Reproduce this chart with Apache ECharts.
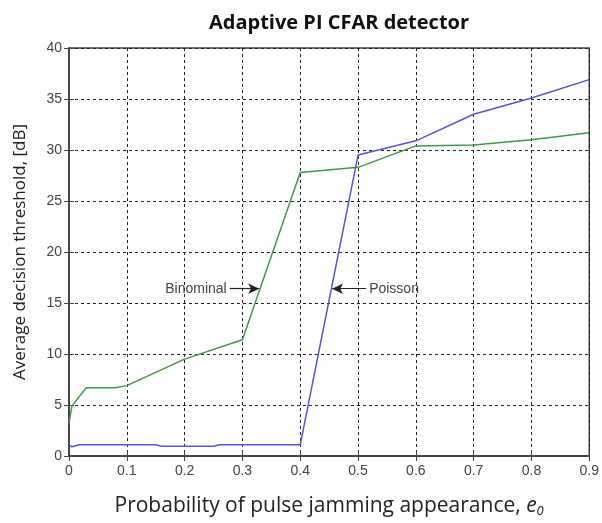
<!DOCTYPE html>
<html>
<head>
  <meta charset="UTF-8">
  <title>Adaptive PI CFAR detector</title>
  <style>
    html, body { margin: 0; padding: 0; background: #fff; }
    #chart { width: 602px; height: 523px; }
  </style>
  <script src="https://cdn.jsdelivr.net/npm/echarts@6/dist/echarts.min.js"></script>
</head>
<body>
  <div id="chart"></div>
  <script>
    // tick labels
    var xTickLabels = ['0', '0.1', '0.2', '0.3', '0.4', '0.5', '0.6', '0.7', '0.8', '0.9'];
    var yTickLabels = ['0', '5', '10', '15', '20', '25', '30', '35', '40'];

    // Binominal (green)
    var binX = [0, 0.005, 0.03, 0.08, 0.1, 0.2, 0.3, 0.4, 0.5, 0.6, 0.7, 0.8, 0.9];
    var binY = [3.2, 4.9, 6.7, 6.7, 6.9, 9.5, 11.4, 27.8, 28.3, 30.4, 30.5, 31.0, 31.7];

    // Poisson (blue)
    var poiX = [0, 0.005, 0.018, 0.15, 0.16, 0.25, 0.26, 0.4, 0.5, 0.6, 0.7, 0.8, 0.9];
    var poiY = [1.1, 0.9, 1.1, 1.1, 0.95, 0.95, 1.1, 1.1, 29.5, 30.9, 33.5, 35.1, 36.9];

    // arrow annotations: [fromX, toX, y]
    var binArrow = [0.278, 0.329, 16.4];
    var poiArrow = [0.514, 0.455, 16.4];

    function pairs(xs, ys) {
      return xs.map(function (x, i) { return [x, ys[i]]; });
    }

    function arrow(a, text) {
      return {
        silent: true,
        symbol: ['none', 'arrow'],
        symbolSize: [8, 11],
        animation: false,
        lineStyle: { color: '#222', width: 1.2, type: 'solid' },
        label: { show: true, position: 'start', formatter: text, color: '#444', fontSize: 14, fontFamily: 'Liberation Sans', distance: 3 },
        data: [[{ coord: [a[0], a[2]] }, { coord: [a[1], a[2]] }]]
      };
    }

    var chart = echarts.init(document.getElementById('chart'));
    var gridLine = { show: true, lineStyle: { color: '#222', type: [3, 3], width: 1 } };
    var tickFont = { color: '#444', fontSize: 14, fontFamily: 'Liberation Sans' };

    chart.setOption({
      animation: false,
      backgroundColor: '#fff',
      title: {
        text: 'Adaptive PI CFAR detector',
        left: 334, top: 8, textAlign: 'center',
        textStyle: { fontSize: 20, fontWeight: 'bold', color: '#111', fontFamily: 'Open Sans' }
      },
      grid: { left: 69, right: 10, top: 48, bottom: 63, show: true, borderColor: '#444', borderWidth: 1.5 },
      xAxis: [{
        type: 'value', min: 0, max: 0.9, interval: 0.1,
        axisLine: { show: true, lineStyle: { color: '#444', width: 1.5 } },
        axisTick: { show: true, inside: true, length: 5, lineStyle: { color: '#444' } },
        axisLabel: Object.assign({ margin: 8, formatter: function (v) { return xTickLabels[Math.round(v * 10)]; } }, tickFont),
        splitLine: gridLine,
        name: '{a|Probability of pulse jamming appearance, }{e|e}{s|0}',
        nameLocation: 'middle', nameGap: 38,
        nameTextStyle: {
          rich: {
            a: { fontSize: 21, color: '#222', fontFamily: 'Open Sans' },
            e: { fontSize: 21, color: '#222', fontFamily: 'Open Sans', fontStyle: 'italic' },
            s: { fontSize: 13, color: '#222', fontFamily: 'Open Sans', fontStyle: 'italic', padding: [11, 0, 0, 0] }
          }
        }
      }, {
        type: 'value', min: 0, max: 0.9, interval: 0.1, position: 'top',
        axisLine: { show: true, lineStyle: { color: '#444', width: 1.5 } },
        axisTick: { show: true, inside: true, length: 5, lineStyle: { color: '#444' } },
        axisLabel: { show: false }, splitLine: { show: false }
      }],
      yAxis: [{
        type: 'value', min: 0, max: 40, interval: 5,
        axisLine: { show: true, lineStyle: { color: '#444', width: 1.5 } },
        axisTick: { show: true, inside: true, length: 5, lineStyle: { color: '#444' } },
        axisLabel: Object.assign({ margin: 7, formatter: function (v) { return yTickLabels[Math.round(v / 5)]; } }, tickFont),
        splitLine: gridLine,
        name: 'Average decision threshold, [dB]',
        nameLocation: 'middle', nameGap: 40,
        nameTextStyle: { fontSize: 17, color: '#222', fontFamily: 'Open Sans' }
      }, {
        type: 'value', min: 0, max: 40, interval: 5, position: 'right',
        axisLine: { show: true, lineStyle: { color: '#444', width: 1.5 } },
        axisTick: { show: true, inside: true, length: 5, lineStyle: { color: '#444' } },
        axisLabel: { show: false }, splitLine: { show: false }
      }],
      series: [{
        name: 'Binominal', type: 'line', data: pairs(binX, binY),
        showSymbol: false, lineStyle: { color: '#3f9a45', width: 1.5 }, itemStyle: { color: '#3f9a45' },
        markLine: arrow(binArrow, 'Binominal')
      }, {
        name: 'Poisson', type: 'line', data: pairs(poiX, poiY),
        showSymbol: false, lineStyle: { color: '#5555d6', width: 1.5 }, itemStyle: { color: '#5555d6' },
        markLine: arrow(poiArrow, 'Poisson')
      }]
    });
  </script>
</body>
</html>
